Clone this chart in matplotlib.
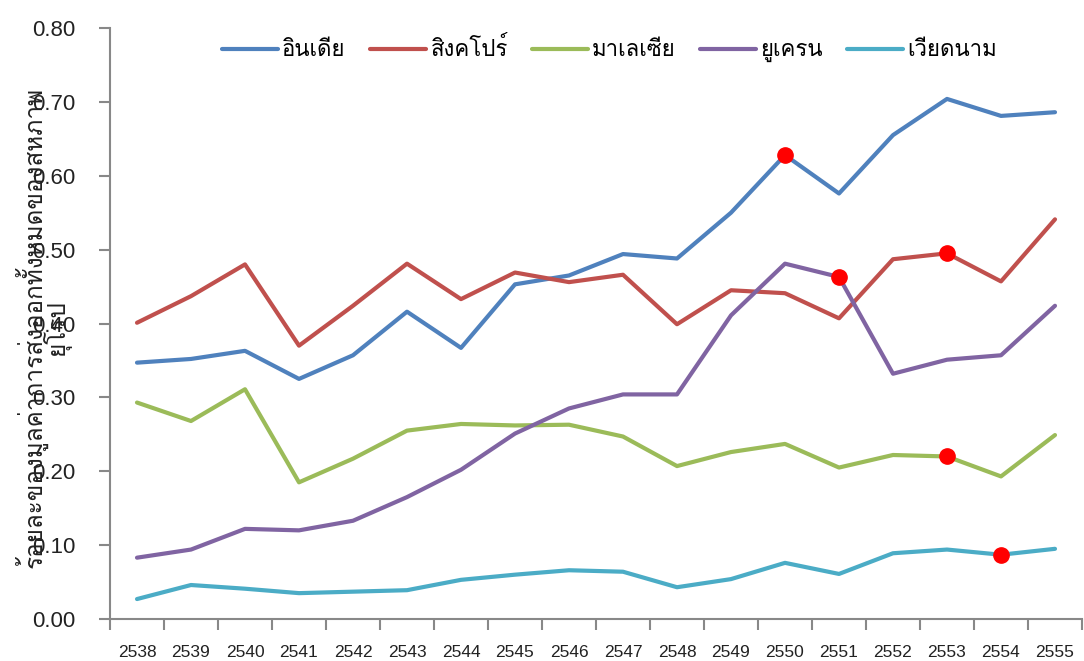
import matplotlib
matplotlib.use("Agg")
import matplotlib.pyplot as plt
from matplotlib.ticker import FixedLocator, NullFormatter

plt.rcParams['font.family'] = ['Liberation Sans', 'Loma']

years = ['2538', '2539', '2540', '2541', '2542', '2543', '2544', '2545', '2546',
         '2547', '2548', '2549', '2550', '2551', '2552', '2553', '2554', '2555']

india = [0.347, 0.352, 0.363, 0.325, 0.357, 0.416, 0.367, 0.453, 0.465,
         0.494, 0.488, 0.550, 0.628, 0.576, 0.655, 0.704, 0.681, 0.686]
singapore = [0.401, 0.437, 0.480, 0.370, 0.424, 0.481, 0.433, 0.469, 0.456,
             0.466, 0.399, 0.445, 0.441, 0.407, 0.487, 0.495, 0.457, 0.541]
malaysia = [0.293, 0.268, 0.311, 0.185, 0.217, 0.255, 0.264, 0.262, 0.263,
            0.247, 0.207, 0.226, 0.237, 0.205, 0.222, 0.220, 0.193, 0.249]
ukraine = [0.083, 0.094, 0.122, 0.120, 0.133, 0.165, 0.202, 0.251, 0.285,
           0.304, 0.304, 0.411, 0.481, 0.463, 0.332, 0.351, 0.357, 0.424]
vietnam = [0.027, 0.046, 0.041, 0.035, 0.037, 0.039, 0.053, 0.060, 0.066,
           0.064, 0.043, 0.054, 0.076, 0.061, 0.089, 0.094, 0.087, 0.095]

names = ['อินเดีย', 'สิงคโปร์', 'มาเลเซีย', 'ยูเครน', 'เวียดนาม']
colors = ['#4F81BD', '#C0504D', '#9BBB59', '#8064A2', '#4BACC6']
series = [india, singapore, malaysia, ukraine, vietnam]

# red dots: (series index, year)
dot_series = [0, 3, 1, 2, 4]
dot_years = ['2550', '2551', '2553', '2553', '2554']

ylabel = 'ร้อยละของมูลค่าการส่งออกทั้งหมดของสหภาพ\nยุโรป'
yticks = [0.0, 0.1, 0.2, 0.3, 0.4, 0.5, 0.6, 0.7, 0.8]

fig = plt.figure(figsize=(10.84, 6.61), dpi=100)
ax = fig.add_axes([110 / 1084, 1 - 619 / 661, 972 / 1084, 591 / 661])

x = list(range(len(years)))
for vals, name, c in zip(series, names, colors):
    ax.plot(x, vals, color=c, lw=3, label=name, solid_capstyle='round', zorder=2)

for si, yr in zip(dot_series, dot_years):
    i = years.index(yr)
    ax.plot(i, series[si][i], 'o', color='#FF0000', ms=11, zorder=3)

ax.set_xlim(-0.5, len(years) - 0.5)
ax.set_ylim(0, 0.8)

ax.set_yticks(yticks)
ax.set_yticklabels(['%.2f' % v for v in yticks])
ax.tick_params(axis='y', length=8, width=1.5, color='#888888', pad=17,
               labelsize=16, labelcolor='#222222')

ax.set_xticks(x)
ax.set_xticklabels(years)
ax.tick_params(axis='x', which='major', length=0, pad=19, labelsize=12.5,
               labelcolor='#222222')
ax.xaxis.set_minor_locator(FixedLocator([i - 0.5 for i in range(len(years) + 1)]))
ax.xaxis.set_minor_formatter(NullFormatter())
ax.tick_params(axis='x', which='minor', length=8, width=1.5, color='#888888')

for s in ['top', 'right']:
    ax.spines[s].set_visible(False)
for s in ['left', 'bottom']:
    ax.spines[s].set_color('#888888')
    ax.spines[s].set_linewidth(1.5)

ax.set_ylabel(ylabel, fontsize=17.5, color='#222222', va='center', ha='center',
              multialignment='center', linespacing=0.75)
ax.yaxis.set_label_coords(-0.069, 0.494)

ax.legend(loc='center', bbox_to_anchor=(0.514, 0.963), ncol=5, frameon=False,
          fontsize=16, handlelength=2.5, handletextpad=0.2, columnspacing=1.1,
          borderaxespad=0)

fig.savefig('out.png', dpi=100)
